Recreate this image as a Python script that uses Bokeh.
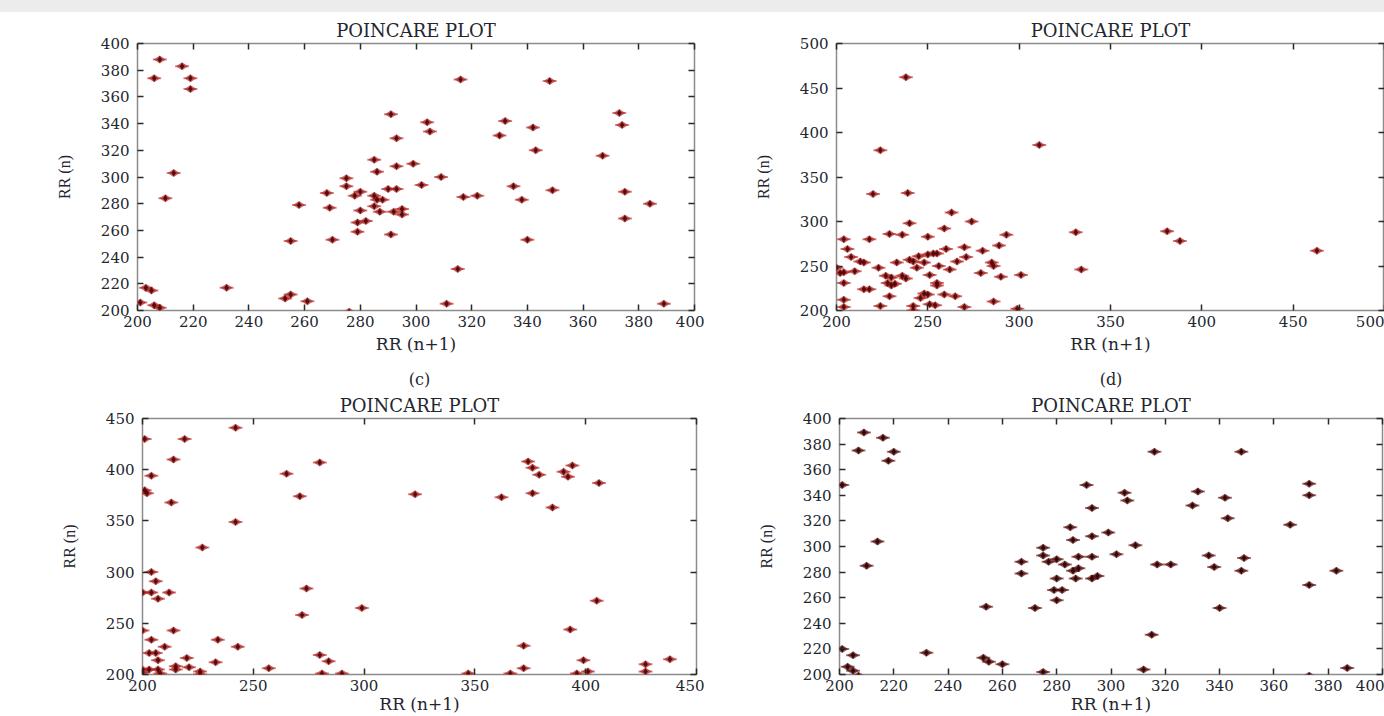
import math
from bokeh.plotting import figure
from bokeh.layouts import column, row
from bokeh.models import FixedTicker, LinearAxis, Range1d, CustomJSTickFormatter, Div, Title
from bokeh.embed import file_html
from bokeh.resources import INLINE

# ---------------- data ----------------
# (top-left) poincare plot
tl_x = [208, 216, 206, 219, 219, 213, 210, 201, 203, 205, 206, 208, 232, 255, 253, 255, 261, 276,
        258, 268, 269, 270, 275, 275, 278, 280, 280, 282, 279, 279, 285, 286, 285, 286, 288, 285,
        287, 290, 293, 291, 293, 293, 292, 295, 295, 291, 299, 302, 304, 305, 309, 316, 317, 322,
        315, 311, 330, 332, 335, 338, 340, 342, 343, 348, 349, 367, 373, 374, 375, 375, 384, 389]
tl_y = [388, 383, 374, 374, 366, 303, 284, 206, 217, 215, 204, 202, 217, 252, 209, 212, 207, 199,
        279, 288, 277, 253, 299, 293, 286, 289, 275, 267, 266, 259, 313, 304, 286, 283, 283, 278,
        274, 291, 291, 347, 329, 308, 274, 276, 272, 257, 310, 294, 341, 334, 300, 373, 285, 286,
        231, 205, 331, 342, 293, 283, 253, 337, 320, 372, 290, 316, 348, 339, 289, 269, 280, 205]

# (top-right) poincare plot
tr_x = [238, 224, 220, 239, 311, 263, 274, 240, 259, 229, 236, 250, 293, 331, 334, 381, 388, 463,
        204, 218, 206, 260, 270, 280, 289, 208, 213, 215, 233, 240, 245, 250, 253, 255, 242, 248,
        256, 266, 271, 223, 200, 210, 202, 204, 244, 262, 286, 285, 251, 279, 290, 301, 204, 227,
        230, 238, 236, 228, 230, 232, 255, 255, 215, 218, 259, 265, 248, 246, 250, 229, 204, 204,
        224, 242, 251, 254, 270, 286, 299, 242]
tr_y = [462, 380, 331, 332, 386, 310, 300, 298, 292, 286, 285, 283, 285, 288, 246, 289, 278, 267,
        280, 280, 269, 269, 271, 267, 273, 260, 255, 254, 254, 257, 261, 263, 264, 264, 255, 254,
        250, 255, 260, 248, 248, 244, 242, 243, 248, 246, 250, 254, 240, 242, 238, 240, 231, 239,
        237, 236, 239, 231, 228, 230, 231, 228, 224, 224, 218, 216, 219, 214, 218, 216, 212, 204,
        205, 205, 207, 206, 204, 210, 202, 200]

# (bottom-left) poincare plot
bl_x = [242, 201, 219, 214, 280, 204, 265, 201, 202, 271, 323, 213, 242, 227, 204, 206, 200, 204,
        212, 207, 274, 272, 299, 200, 214, 204, 234, 210, 243, 203, 206, 207, 220, 280, 284, 233,
        257, 200, 200, 203, 207, 208, 215, 215, 221, 226, 226, 281, 290, 362, 374, 376, 379, 376,
        385, 390, 394, 392, 406, 405, 393, 372, 372, 399, 401, 396, 347, 366, 427, 427, 438]
bl_y = [441, 430, 430, 410, 407, 394, 396, 380, 377, 374, 376, 368, 349, 324, 300, 291, 280, 280,
        280, 274, 284, 258, 265, 243, 243, 234, 234, 227, 227, 221, 221, 214, 216, 219, 213, 212,
        206, 205, 202, 205, 205, 201, 205, 208, 207, 203, 200, 201, 201, 373, 408, 402, 395, 377,
        363, 398, 404, 393, 387, 272, 244, 228, 206, 214, 203, 201, 201, 201, 210, 203, 215]

# (bottom-right) poincare plot
br_x = [209, 216, 207, 220, 218, 201, 214, 210, 201, 205, 203, 205, 207, 232, 254, 253, 255, 260,
        275, 267, 267, 272, 275, 275, 277, 280, 279, 282, 280, 280, 285, 286, 283, 286, 288, 287,
        288, 293, 291, 293, 293, 293, 295, 299, 302, 309, 305, 306, 316, 317, 322, 315, 312, 330,
        332, 336, 338, 340, 342, 343, 348, 348, 349, 366, 373, 373, 373, 383, 387, 373]
br_y = [389, 385, 375, 374, 367, 348, 304, 285, 220, 215, 206, 203, 199, 217, 253, 213, 210, 208,
        202, 288, 279, 252, 299, 293, 288, 290, 266, 266, 258, 275, 315, 305, 286, 281, 283, 275,
        292, 292, 348, 330, 308, 275, 277, 311, 294, 301, 342, 336, 374, 286, 286, 231, 204, 332,
        343, 293, 284, 252, 338, 322, 374, 281, 291, 317, 349, 340, 270, 281, 205, 199]

# tick labels
ticks_20 = [200, 220, 240, 260, 280, 300, 320, 340, 360, 380, 400]
ticks_50_500 = [200, 250, 300, 350, 400, 450, 500]
ticks_50_450 = [200, 250, 300, 350, 400, 450]

TITLE = "POINCARE PLOT"
XLABEL = "RR (n+1)"
YLABEL = "RR (n)"

# ---------------- styling ----------------
TEXT = "#23262f"
WIDE = "DejaVu Serif"
SERIF = "Liberation Serif"


def style_axis(ax, ticks):
    ax.ticker = FixedTicker(ticks=ticks)
    ax.axis_line_color = None
    ax.major_tick_in = 6
    ax.major_tick_out = 0
    ax.minor_tick_line_color = None
    ax.major_tick_line_color = "#2a2a2a"
    ax.major_tick_line_width = 1.5
    ax.major_label_text_font = WIDE
    ax.major_label_text_font_size = "15px"
    ax.major_label_text_color = TEXT


def mirror_axis(p, ticks, side):
    ax = LinearAxis()
    style_axis(ax, ticks)
    ax.formatter = CustomJSTickFormatter(code="return ''")
    ax.major_label_text_font_size = "0px"
    ax.major_label_standoff = 0
    p.add_layout(ax, side)


def add_title(p, text, size, standoff, offset=0):
    p.add_layout(Title(text=text, align="center", offset=offset, text_font=WIDE,
                       text_font_size=size, text_font_style="normal", text_color=TEXT,
                       standoff=standoff), "above")


def panel(xr, yr, xt, yt, w, h, bl, br, bt, bb, xlab_standoff, sub=None, sub_offset=0):
    p = figure(width=w, height=h, x_range=Range1d(*xr), y_range=Range1d(*yr),
               output_backend="svg", toolbar_location=None,
               min_border_left=bl, min_border_right=br, min_border_top=bt, min_border_bottom=bb)
    p.grid.visible = False
    p.outline_line_color = "#8c8c8c"
    p.outline_line_width = 1.5
    p.border_fill_color = "white"
    style_axis(p.xaxis[0], xt)
    style_axis(p.yaxis[0], yt)
    p.xaxis.major_label_standoff = 5
    p.yaxis.major_label_standoff = 8
    p.yaxis.axis_label = YLABEL
    p.yaxis.axis_label_text_font = SERIF
    p.yaxis.axis_label_text_font_size = "16px"
    p.yaxis.axis_label_text_font_style = "normal"
    p.yaxis.axis_label_text_color = TEXT
    p.yaxis.axis_label_standoff = 25
    p.xaxis.axis_label = XLABEL
    p.xaxis.axis_label_text_font = WIDE
    p.xaxis.axis_label_text_font_size = "17px"
    p.xaxis.axis_label_text_font_style = "normal"
    p.xaxis.axis_label_text_color = TEXT
    p.xaxis.axis_label_standoff = xlab_standoff
    mirror_axis(p, xt, "above")
    mirror_axis(p, yt, "right")
    add_title(p, TITLE, "18px", 5)
    if sub is not None:
        # sub-figure caption of the panel above, sitting over this panel's title
        add_title(p, sub, "16px", 3, sub_offset)
    return p


def points(p, xs, ys, dark=False):
    outer = "#5a0c0c" if dark else "#b22222"
    inner = "#2a0202" if dark else "#4d0505"
    p.scatter(xs, ys, marker="dash", size=14, line_color=outer, line_alpha=0.55, line_width=2)
    p.scatter(xs, ys, marker="diamond", size=12, angle=math.pi / 2,
              fill_color=outer, fill_alpha=0.7, line_color=None)
    p.scatter(xs, ys, marker="diamond", size=7,
              fill_color=inner, fill_alpha=0.9, line_color=None)


# grey band at the top of the page
band = Div(width=1384, height=12, margin=0, styles={"background-color": "#ececec"})

TOP_H = 352
BOT_H = 716 - 12 - TOP_H

# top-left
p1 = panel((200, 400), (200, 400), ticks_20, ticks_20, 704, TOP_H, 137, 10, 31, 51, 4)
points(p1, tl_x, tl_y)

# top-right
p2 = panel((200, 500), (200, 500), ticks_50_500, ticks_50_500, 680, TOP_H, 132, 0, 31, 54, 4)
points(p2, tr_x, tr_y)

# bottom-left (caption "(c)" of the top-left panel drawn above its title)
p3 = panel((200, 450), (200, 450), ticks_50_450, ticks_50_450, 704, BOT_H, 142, 8, 54, 31, 0,
           sub="(c)", sub_offset=-34)
points(p3, bl_x, bl_y)

# bottom-right (caption "(d)" of the top-right panel drawn above its title)
p4 = panel((200, 400), (200, 400), ticks_20, ticks_20, 680, BOT_H, 135, 2, 54, 38, 0,
           sub="(d)", sub_offset=-27)
points(p4, br_x, br_y, dark=True)

layout = column(band, row(p1, p2), row(p3, p4))
open("out.html", "w").write(file_html(layout, INLINE))
